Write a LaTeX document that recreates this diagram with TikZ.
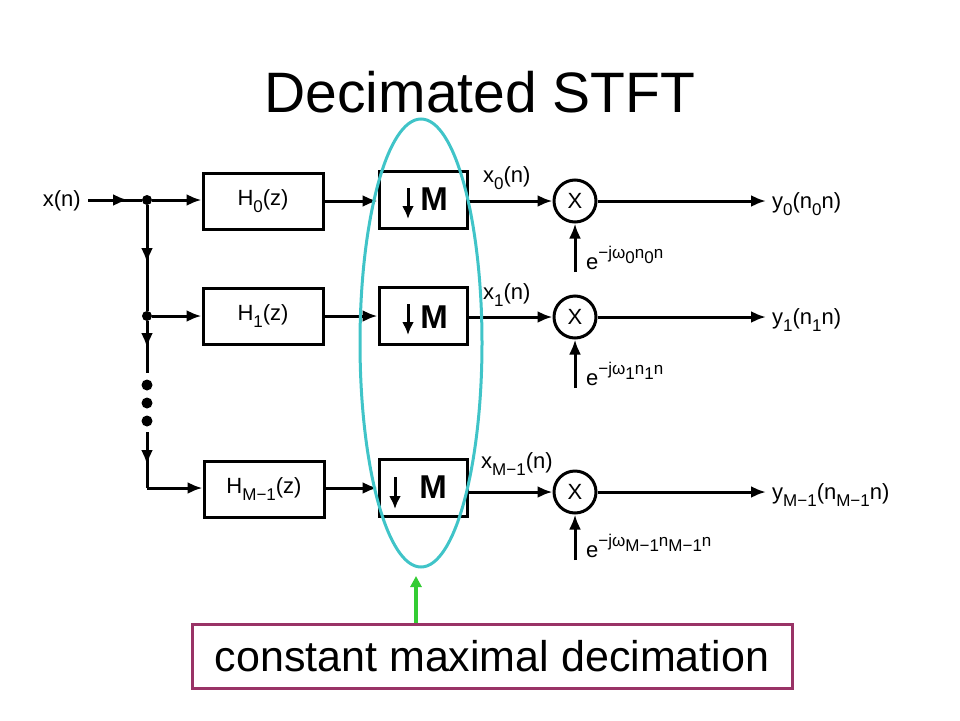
\documentclass[tikz,border=0pt]{standalone}
\usepackage{fontspec}
\setmainfont{Liberation Sans}
\usetikzlibrary{arrows.meta}
\definecolor{ellcol}{HTML}{40C4C8}
\definecolor{grn}{HTML}{33CC33}
\definecolor{boxcol}{HTML}{993366}
\newcommand\dn[1]{\raisebox{-0.32em}{\fontsize{17}{17}\selectfont #1}}
\newcommand\up[1]{\raisebox{0.5em}{\fontsize{17}{17}\selectfont #1}}
\begin{document}
\begin{tikzpicture}[x=1pt,y=-1pt,
  lab/.style={font=\fontsize{22}{24}\selectfont, inner sep=0pt},
  blk/.style={draw, line width=3pt, minimum width=120pt, minimum height=56pt, font=\fontsize{22}{24}\selectfont},
  mbox/.style={draw, line width=3pt, minimum width=88pt, minimum height=57pt},
  mult/.style={draw, circle, line width=3pt, minimum size=42pt, inner sep=0pt, font=\fontsize{22}{24}\selectfont},
  sig/.style={line width=3pt},
  tip/.style={-{Latex[length=15pt,width=12pt]}},
  dot/.style={circle, fill, inner sep=0pt, minimum size=10pt}]
\useasboundingbox (0,0) rectangle (960,720);
% title
\node[font=\fontsize{57}{60}\selectfont] (title) at (480,92) {Decimated STFT};
% input
\node[lab, anchor=east] (xn) at (81,201) {x(n)};
\coordinate (xs) at (88,200);
\node[dot] (j0) at (147,200) {};
\node[dot] (j1) at (147,316) {};
\coordinate (j2) at (147,488);
\coordinate (d0) at (147,373);
\coordinate (d1) at (147,432);
\node[dot, minimum size=11pt] (e1) at (147,385) {};
\node[dot, minimum size=11pt] (e2) at (147,403) {};
\node[dot, minimum size=11pt] (e3) at (147,421) {};
% filters
\node[blk] (h0) at (263,201) {H\dn{0}(z)};
\node[blk] (h1) at (263,316) {H\dn{1}(z)};
\node[blk] (h2) at (264,489) {H\dn{M−1}(z)};
% decimators
\node[mbox] (m0) at (423,200) {};
\node[mbox] (m1) at (423,316) {};
\node[mbox] (m2) at (423,488) {};
\node[font=\fontsize{33}{36}\selectfont\bfseries, inner sep=0pt] (mm0) at (434,199) {M};
\node[font=\fontsize{33}{36}\selectfont\bfseries, inner sep=0pt] (mm1) at (434,317) {M};
\node[font=\fontsize{33}{36}\selectfont\bfseries, inner sep=0pt] (mm2) at (433,487) {M};
\coordinate (a0t) at (408,188); \coordinate (a0b) at (408,219);
\coordinate (a1t) at (408,304); \coordinate (a1b) at (408,335);
\coordinate (a2t) at (395,477); \coordinate (a2b) at (395,509);
\draw[line width=3pt, -{Latex[length=13pt,width=12pt]}] (a0t) -- (a0b);
\draw[line width=3pt, -{Latex[length=13pt,width=12pt]}] (a1t) -- (a1b);
\draw[line width=3pt, -{Latex[length=13pt,width=12pt]}] (a2t) -- (a2b);
% multipliers
\node[mult] (c0) at (575,201) {X};
\node[mult] (c1) at (575,317) {X};
\node[mult] (c2) at (575,492) {X};
% input branch lines
\draw[sig] (xs) -- (j0);
\draw[sig, tip] (xs) -- (128,200);
\draw[sig, tip] (j0) -- (h0.west |- j0);
\draw[sig] (j0) -- (j1);
\draw[sig, tip] (j0) -- (147,263);
\draw[sig, tip] (j1) -- (h1.west |- j1);
\draw[sig] (j1) -- (d0);
\draw[sig, tip] (j1) -- (147,348);
\draw[sig] (d1) -- (j2);
\draw[sig, tip] (d1) -- (147,465);
\draw[sig, tip] (j2) -- (h2.west |- j2);
% filter to decimator
\draw[sig, tip] (h0.east) -- (m0.west |- h0.east);
\draw[sig, tip] (h1.east) -- (m1.west |- h1.east);
\draw[sig, tip] (h2.east |- m2.west) -- (m2.west);
% decimator to multiplier
\draw[sig, tip] (m0.east |- c0.west) -- (c0.west);
\draw[sig, tip] (m1.east |- c1.west) -- (c1.west);
\draw[sig, tip] (m2.east |- c2.west) -- (c2.west);
\node[lab, anchor=base west] (x0) at (483,182) {x\dn{0}(n)};
\node[lab, anchor=base west] (x1) at (483,299) {x\dn{1}(n)};
\node[lab, anchor=base west] (x2) at (481,468) {x\dn{M−1}(n)};
% outputs
\coordinate (o0) at (766,201);
\coordinate (o1) at (766,317);
\coordinate (o2) at (766,492);
\draw[sig, tip] (c0.east) -- (o0);
\draw[sig, tip] (c1.east) -- (o1);
\draw[sig, tip] (c2.east) -- (o2);
\node[lab, anchor=base west] (y0) at (772,208) {y\dn{0}(n\dn{0}n)};
\node[lab, anchor=base west] (y1) at (772,324) {y\dn{1}(n\dn{1}n)};
\node[lab, anchor=base west] (y2) at (772,499) {y\dn{M−1}(n\dn{M−1}n)};
% modulation inputs
\coordinate (p0) at (575,272);
\coordinate (p1) at (575,388);
\coordinate (p2) at (575,560);
\draw[sig, tip] (p0) -- (c0.south);
\draw[sig, tip] (p1) -- (c1.south);
\draw[sig, tip] (p2) -- (c2.south);
\node[lab, anchor=base west] (e0l) at (586,269) {e\up{−jω\dn{0}n\dn{0}n}};
\node[lab, anchor=base west] (e1l) at (586,385) {e\up{−jω\dn{1}n\dn{1}n}};
\node[lab, anchor=base west] (e2l) at (586,557) {e\up{−jω\dn{M−1}n\dn{M−1}n}};
% ellipse
\draw[ellcol, line width=3pt] (421,343) ellipse [x radius=61, y radius=224];
\coordinate (etip) at (416,576);
% note box
\node[draw=boxcol, line width=3pt, minimum width=600pt, minimum height=64pt, inner sep=0pt,
  font=\fontsize{43}{46}\selectfont] (note) at (492,656) {constant maximal decimation};
\draw[grn, line width=3.5pt, -{Triangle[length=11pt,width=11pt]}] (note.north -| etip) -- (etip);
\end{tikzpicture}
\end{document}
